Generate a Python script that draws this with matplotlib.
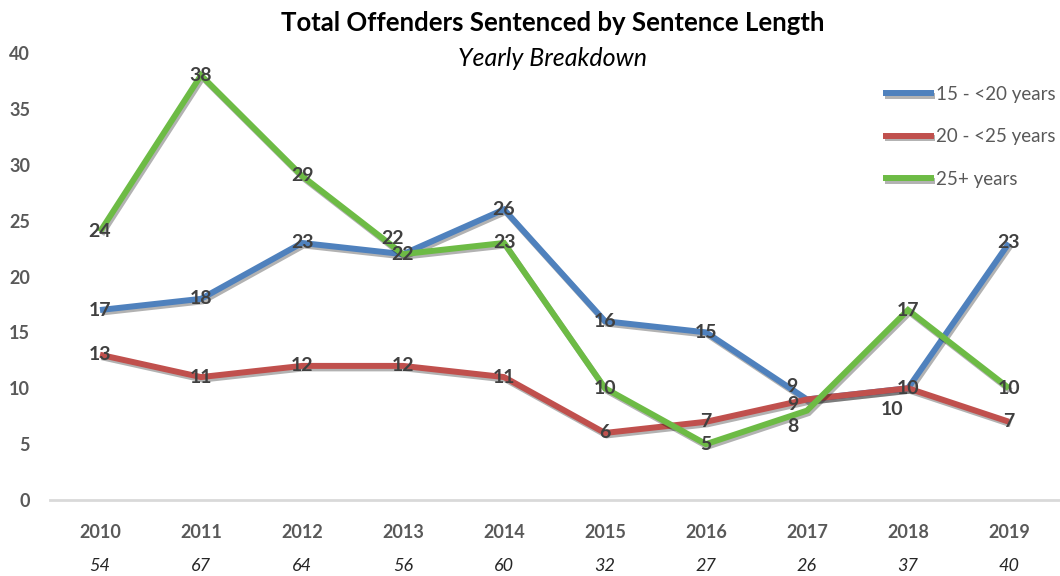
import numpy as np
import matplotlib
matplotlib.use('Agg')
import matplotlib.pyplot as plt
import matplotlib.patheffects as pe

plt.rcParams['font.family'] = ['Lato', 'DejaVu Sans']

# 数据
years = ['2010', '2011', '2012', '2013', '2014', '2015', '2016', '2017', '2018', '2019']
totals = [54, 67, 64, 56, 60, 32, 27, 26, 37, 40]
s15_20 = [17, 18, 23, 22, 26, 16, 15, 9, 10, 23]
s20_25 = [13, 11, 12, 12, 11, 6, 7, 9, 10, 7]
s25_plus = [24, 38, 29, 22, 23, 10, 5, 8, 17, 10]

series = [
    ('15 - <20 years', s15_20, '#4F81BD'),
    ('20 - <25 years', s20_25, '#C0504D'),
    ('25+ years', s25_plus, '#6DBB45'),
]

# 标签偏移 (像素)，其余居中
label_offsets = {
    (2, 3): (-11, 16),
    (0, 7): (-15, 13),
    (1, 7): (-14, -5),
    (2, 7): (-14, -16),
    (0, 8): (-16, -21),
}

fig = plt.figure(figsize=(10.6, 5.76), dpi=100)
ax = fig.add_axes([49.5 / 1060, 76 / 576, 1010 / 1060, 447 / 576])

x = np.arange(len(years))
shadow = [pe.SimpleLineShadow(offset=(1.2, -1.8), shadow_color='black', alpha=0.3), pe.Normal()]
for name, vals, col in series:
    ax.plot(x, vals, color=col, linewidth=4.3, label=name,
            solid_joinstyle='miter', solid_capstyle='butt', path_effects=shadow, zorder=3)

for si, (name, vals, col) in enumerate(series):
    for i, v in enumerate(vals):
        dx, dy = label_offsets.get((si, i), (0, 0))
        ax.annotate(str(v), (x[i], v), xytext=(dx, dy), textcoords='offset pixels',
                    ha='center', va='center', fontsize=14, fontweight='bold',
                    color='#404040', zorder=5)

ax.set_xlim(-0.5, len(years) - 0.5)
ax.set_ylim(0, 40)
ax.set_yticks(range(0, 41, 5))
ax.tick_params(axis='y', length=0, pad=14, labelsize=13, labelcolor='#595959')
for lab in ax.get_yticklabels():
    lab.set_fontweight('bold')
ax.set_xticks([])
for sp in ['top', 'right', 'left']:
    ax.spines[sp].set_visible(False)
ax.spines['bottom'].set_color('#D9D9D9')
ax.spines['bottom'].set_linewidth(2)

for i in range(len(years)):
    ax.annotate(years[i], (x[i], 0), xytext=(0, -32), textcoords='offset pixels',
                ha='center', va='center', fontsize=13, fontweight='bold',
                color='#595959', annotation_clip=False)
    ax.annotate(str(totals[i]), (x[i], 0), xytext=(0, -66), textcoords='offset pixels',
                ha='center', va='center', fontsize=13, fontstyle='italic',
                color='#262626', annotation_clip=False)

fig.text(553 / 1060, 1 - 23 / 576, 'Total Offenders Sentenced by Sentence Length',
         ha='center', va='center', fontsize=18.5, fontweight='bold', color='black')
fig.text(553 / 1060, 1 - 59 / 576, 'Yearly Breakdown',
         ha='center', va='center', fontsize=18, fontstyle='italic', color='black')

leg = ax.legend(loc='upper left', bbox_to_anchor=(883 / 1060, 1 - 86 / 576),
                bbox_transform=fig.transFigure, frameon=False, fontsize=13.5,
                handlelength=2.7, handletextpad=0.15, labelspacing=1.35,
                borderaxespad=0, borderpad=0)
for t in leg.get_texts():
    t.set_color('#595959')

fig.savefig('out.png', dpi=100)
